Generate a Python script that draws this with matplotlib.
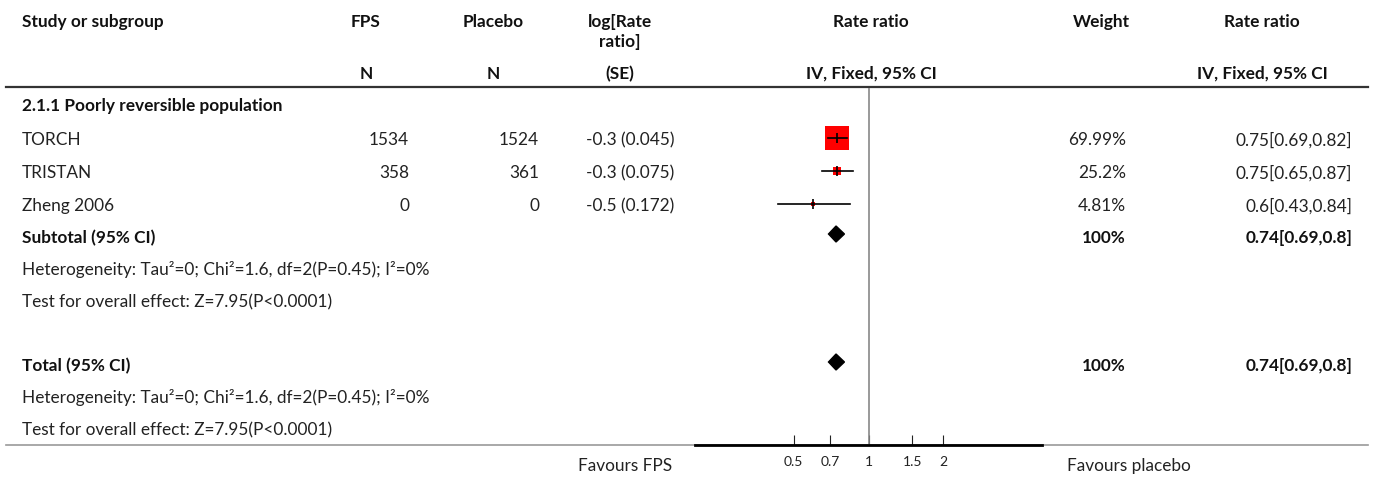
import numpy as np
import matplotlib.pyplot as plt
from matplotlib.ticker import NullLocator

plt.rcParams['font.family'] = ['Lato', 'DejaVu Sans']

# data
studies = ['TORCH', 'TRISTAN', 'Zheng 2006']
fps_n = [1534, 358, 0]
placebo_n = [1524, 361, 0]
log_rr = [-0.3, -0.3, -0.5]
log_se = [0.045, 0.075, 0.172]
weights = [69.99, 25.2, 4.81]
rr = [0.75, 0.75, 0.6]
rr_lo = [0.69, 0.65, 0.43]
rr_hi = [0.82, 0.87, 0.84]

group_title = '2.1.1 Poorly reversible population'
sub_rr, sub_lo, sub_hi = 0.74, 0.69, 0.8
het_text = 'Heterogeneity: Tau²=0; Chi²=1.6, df=2(P=0.45); I²=0%'
eff_text = 'Test for overall effect: Z=7.95(P<0.0001)'
tick_vals = [0.5, 0.7, 1, 1.5, 2]
tick_labels = ['0.5', '0.7', '1', '1.5', '2']

W, H = 1373, 478
dy = 2  # small nudge so text sits on the same rows as the reference

fig = plt.figure(figsize=(W / 100, H / 100), dpi=100)
bg = fig.add_axes([0, 0, 1, 1])
bg.set_xlim(0, W)
bg.set_ylim(H, 0)
bg.axis('off')

# pick a font size so the heterogeneity line is as wide as in the reference
probe = bg.text(0, 0, het_text, fontsize=10)
wpx = probe.get_window_extent(renderer=fig.canvas.get_renderer()).width
probe.remove()
fs = 10 * 406 / wpx

# header
hdr = dict(fontsize=fs, fontweight='bold', va='center', color='#111111')
bg.text(22, 20 + dy, 'Study or subgroup', ha='left', **hdr)
bg.text(366, 20 + dy, 'FPS', ha='center', **hdr)
bg.text(493, 20 + dy, 'Placebo', ha='center', **hdr)
bg.text(620, 20 + dy, 'log[Rate', ha='center', **hdr)
bg.text(620, 40 + dy, 'ratio]', ha='center', **hdr)
bg.text(871, 20 + dy, 'Rate ratio', ha='center', **hdr)
bg.text(1101, 20 + dy, 'Weight', ha='center', **hdr)
bg.text(1262, 20 + dy, 'Rate ratio', ha='center', **hdr)
bg.text(366, 72 + dy, 'N', ha='center', **hdr)
bg.text(493, 72 + dy, 'N', ha='center', **hdr)
bg.text(620, 72 + dy, '(SE)', ha='center', **hdr)
bg.text(871, 72 + dy, 'IV, Fixed, 95% CI', ha='center', **hdr)
bg.text(1262, 72 + dy, 'IV, Fixed, 95% CI', ha='center', **hdr)

bg.plot([6, 1368], [87, 87], color='#333333', lw=1.6)
bg.plot([6, 1368], [445, 445], color='#999999', lw=1.2)

bg.text(22, 104 + dy, group_title, ha='left', **hdr)

row_y = [138, 171, 204]
txt = dict(fontsize=fs, va='center', color='#222222')
for i, y in enumerate(row_y):
    ty = y + dy
    bg.text(22, ty, studies[i], ha='left', **txt)
    bg.text(409, ty, str(fps_n[i]), ha='right', **txt)
    bg.text(539, ty, str(placebo_n[i]), ha='right', **txt)
    bg.text(586, ty, f'{log_rr[i]:g} ({log_se[i]:g})', ha='left', **txt)
    bg.text(1126, ty, f'{weights[i]:g}%', ha='right', **txt)
    bg.text(1352, ty, f'{rr[i]:g}[{rr_lo[i]:g},{rr_hi[i]:g}]', ha='right', **txt)

total_w = sum(weights)
for y_sum, label, y_het, y_eff in [(236, 'Subtotal (95% CI)', 268, 300),
                                    (364, 'Total (95% CI)', 396, 428)]:
    bg.text(22, y_sum + dy, label, ha='left', **hdr)
    bg.text(1126, y_sum + dy, f'{total_w:.0f}%', ha='right', **hdr)
    bg.text(1352, y_sum + dy, f'{sub_rr:g}[{sub_lo:g},{sub_hi:g}]', ha='right', **hdr)
    bg.text(22, y_het + dy, het_text, ha='left', **txt)
    bg.text(22, y_eff + dy, eff_text, ha='left', **txt)

bg.text(625, 464 + dy, 'Favours FPS', ha='center', **txt)
bg.text(1129, 464 + dy, 'Favours placebo', ha='center', **txt)

# forest panel, y in the same pixel rows as the table
fa = fig.add_axes([695 / W, (H - 445) / H, 347 / W, (445 - 88) / H])
fa.set_xscale('log')
fa.set_xlim(0.2, 5)
fa.set_ylim(445, 88)
fa.patch.set_alpha(0)
for s in ['top', 'left', 'right']:
    fa.spines[s].set_visible(False)
fa.spines['bottom'].set_linewidth(2)
fa.set_yticks([])
fa.set_xticks(tick_vals)
fa.set_xticklabels(tick_labels)
fa.xaxis.set_minor_locator(NullLocator())
fa.tick_params(axis='x', direction='in', length=7, width=0.8, labelsize=10,
               pad=8, colors='#222222')
fa.axvline(1, color='#888888', lw=1.2)

for i, y in enumerate(row_y):
    side = max(weights[i] * 0.33, 4) * 0.72
    fa.scatter([rr[i]], [y], marker='s', s=side ** 2, color='red', zorder=2,
               linewidths=0)
    fa.plot([rr_lo[i], rr_hi[i]], [y, y], color='k', lw=1.2, zorder=3)
    fa.plot([rr[i]], [y], marker='|', color='k', ms=7.5, mew=1.2, zorder=4)

for y in [234, 362]:
    fa.fill([sub_lo, sub_rr, sub_hi, sub_rr], [y, y - 8, y, y + 8], color='k',
            zorder=3)

fig.savefig('out.png', dpi=100)
